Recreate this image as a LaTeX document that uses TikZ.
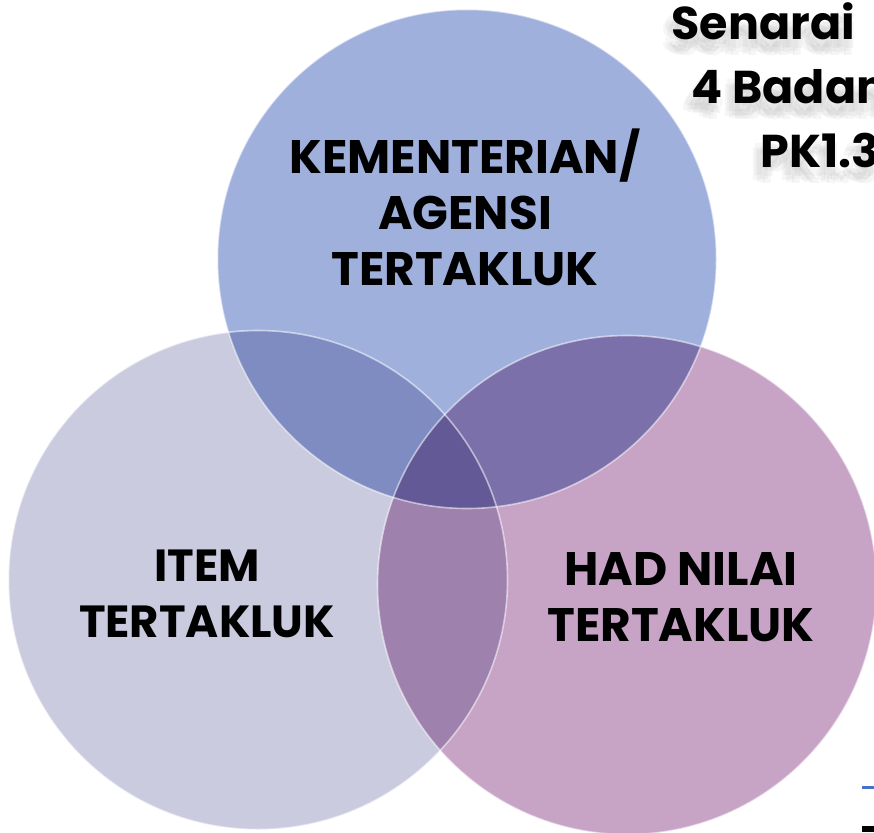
\documentclass[tikz,border=0pt]{standalone}
\usepackage{fontspec}
\setmainfont{Poppins}
\usetikzlibrary{positioning}
\definecolor{ministryblue}{RGB}{159,176,221}
\definecolor{itemlilac}{RGB}{203,203,224}
\definecolor{limitmauve}{RGB}{199,163,198}
\tikzstyle{ring}=[circle,minimum size=499pt,inner sep=0pt]
\tikzstyle{rim}=[circle,minimum size=499pt,inner sep=0pt,draw=white,draw opacity=0.55,line width=1.6pt]
\tikzstyle{label}=[align=center,font=\fontsize{47}{56}\selectfont\bfseries,text=black]
\tikzstyle{title}=[anchor=base west,font=\fontsize{46}{56}\selectfont\bfseries]
\tikzstyle{shade}=[title,text=gray,text opacity=0.07]

\begin{document}
\begin{tikzpicture}[x=1pt,y=-1pt]
\useasboundingbox (0,0) rectangle (874,832);
% blurred shadow of the title
\foreach \dx/\dy in {-8/8,-3/12,2/9,-6/15,0/16,-10/13}
{
\node[shade] at (668+\dx,40+\dy) {Senarai};
\node[shade] at (688+\dx,103+\dy) {4 Badan};
\node[shade] at (757+\dx,167+\dy) {PK1.3};
}
\node[title] (T1) at (668,40) {Senarai};
\node[title] (T2) at (688,103) {4 Badan};
\node[title] (T3) at (757,167) {PK1.3};
% the three sets
\begin{scope}[blend group=multiply]
\node[ring,fill=ministryblue] (Min) at (467,259) {};
\node[ring,fill=itemlilac] (Item) at (258,580) {};
\node[ring,fill=limitmauve] (Lim) at (627,585) {};
\end{scope}
\node[rim] at (Min) {};
\node[rim] at (Item) {};
\node[rim] at (Lim) {};
\node[label] (L1) at (465,207) {KEMENTERIAN/\\AGENSI\\TERTAKLUK};
\node[label,font=\fontsize{45}{56}\selectfont\bfseries] (L2) at (207,594) {ITEM\\TERTAKLUK};
\node[label] (L3) at (681,597) {HAD NILAI\\TERTAKLUK};
% cut-off bits at the lower right
\coordinate (B1) at (862,787);
\coordinate (B2) at (874,787);
\draw[line width=3pt,color={rgb,255:red,68;green,114;blue,196}] (B1) -- (B2);
\fill (862,826) rectangle (874,832);
\end{tikzpicture}
\end{document}
